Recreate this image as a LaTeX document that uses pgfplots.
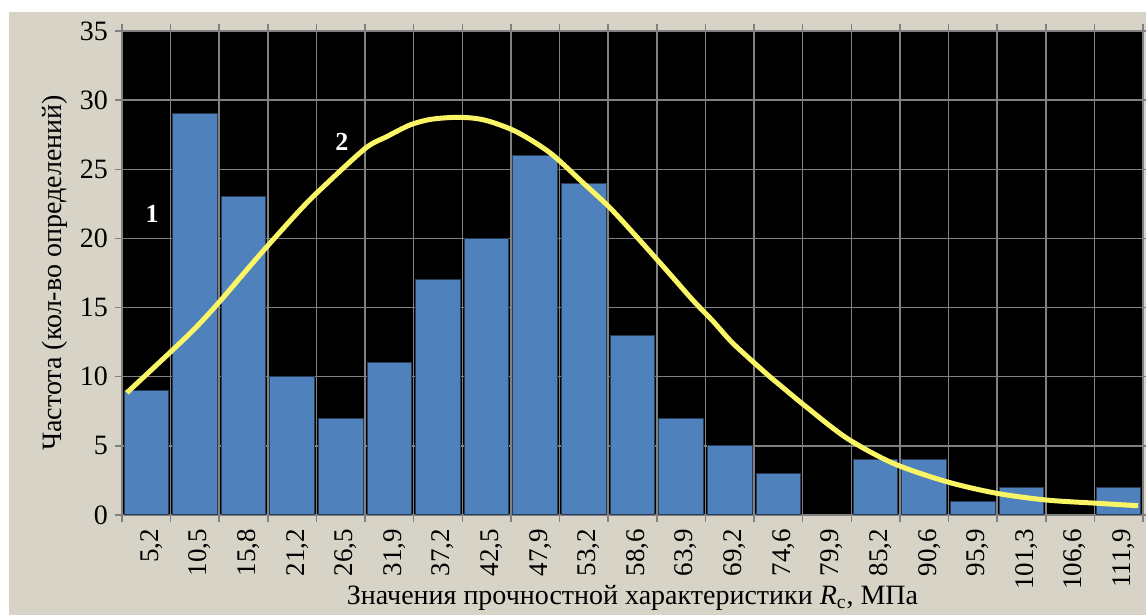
\documentclass[border=0pt]{standalone}
\usepackage{fontspec}
\setmainfont{Liberation Serif}
\usepackage{pgfplots}
\pgfplotsset{compat=1.18}
\definecolor{bgbeige}{RGB}{215,212,199}
\definecolor{barblue}{RGB}{79,129,189}
\definecolor{baredge}{RGB}{40,60,90}
\definecolor{curveyellow}{RGB}{250,245,100}
\definecolor{gridgray}{RGB}{128,128,128}
\begin{document}
\begin{tikzpicture}
\fill[white] (-61pt,-50pt) rectangle (512pt,257.5pt);
\fill[bgbeige] (-56.5pt,-50pt) rectangle (512pt,251.5pt);
\begin{axis}[
  at={(0,0)}, anchor=south west, scale only axis,
  width=510.5pt, height=242pt,
  xmin=-0.5, xmax=20.5, ymin=0, ymax=35,
  axis background/.style={fill=black},
  axis line style={gridgray, line width=0.75pt},
  xtick={0,...,20},
  xticklabels={{5,2},{10,5},{15,8},{21,2},{26,5},{31,9},{37,2},{42,5},{47,9},{53,2},{58,6},{63,9},{69,2},{74,6},{79,9},{85,2},{90,6},{95,9},{101,3},{106,6},{111,9}},
  xticklabel style={rotate=90, anchor=east, yshift=-2.5pt, font=\fontsize{13.5}{13.5}\selectfont},
  major x tick style={draw=none},
  minor xtick={-0.5,0.5,...,20.5},
  xminorgrids=true,
  ytick={0,5,...,35},
  ymajorgrids=true,
  yticklabel style={font=\fontsize{14}{14}\selectfont},
  /pgf/number format/assume math mode=true,
  grid style={gridgray, line width=0.75pt},
  minor grid style={gridgray, line width=0.75pt},
  tick align=outside,
  major tick length=3.5pt, minor tick length=3.5pt,
  tick style={gridgray, line width=0.75pt},
  xlabel={Значения прочностной характеристики {\itshape R}\textsubscript{с}, МПа},
  xlabel style={at={(axis description cs:0.5,0)}, anchor=center, yshift=-41.5pt, font=\fontsize{14}{14}\selectfont},
  ylabel={Частота (кол-во определений)},
  ylabel style={at={(axis description cs:-0.0656,0.5)}, anchor=center, font=\fontsize{14}{14}\selectfont},
]
\addplot[ybar, bar width=22.3pt, fill=barblue, draw=baredge, line width=0.5pt]
  coordinates {(0,9) (1,29) (2,23) (3,10) (4,7) (5,11) (6,17) (7,20) (8,26) (9,24) (10,13) (11,7) (12,5) (13,3) (15,4) (16,4) (17,1) (18,2) (20,2)};
\addplot[curveyellow, line width=2.5pt, smooth, tension=0.5]
  coordinates {(-0.40,8.84) (0.86,13.0) (1.45,15.2) (2.06,17.7) (2.48,19.4) (3.16,22.05) (3.57,23.5) (4.50,26.5) (4.94,27.35) (5.42,28.2) (5.83,28.6) (6.31,28.75) (6.72,28.7) (7.07,28.45) (7.62,27.7) (8.30,26.2) (8.99,24.0) (9.54,22.2) (10.09,20.1) (10.70,17.7) (11.25,15.5) (11.66,14.0) (12.07,12.4) (12.76,10.2) (13.03,9.4) (13.58,7.8) (14.41,5.55) (15.36,3.74) (16.46,2.41) (17.49,1.57) (18.52,1.08) (19.55,0.85) (20.40,0.67)};
\node[white, font=\bfseries\fontsize{13}{13}\selectfont] at (axis cs:0.12,21.8) {1};
\node[white, font=\bfseries\fontsize{13}{13}\selectfont] at (axis cs:4.02,26.97) {2};
\end{axis}
\pgfresetboundingbox
\useasboundingbox (-61pt,-50pt) rectangle (512pt,257.5pt);
\end{tikzpicture}
\end{document}
